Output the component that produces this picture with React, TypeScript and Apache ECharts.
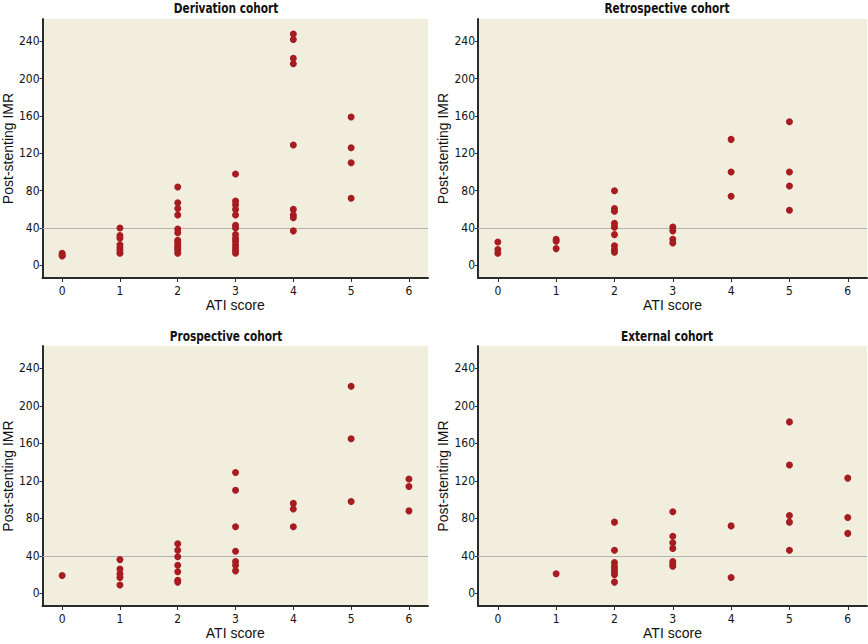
import React, { useEffect, useRef } from "react";
import * as echarts from "echarts";

const cohortTitles = ["Derivation cohort", "Retrospective cohort", "Prospective cohort", "External cohort"];
const atiScores = [0, 1, 2, 3, 4, 5, 6];
const imrTicks = [0, 40, 80, 120, 160, 200, 240];
const threshold = 40;

// IMR values per ATI score (index = score)
const derivationImr: number[][] = [
  [13, 11, 10],
  [40, 32, 29, 22, 19, 16, 13],
  [84, 67, 61, 54, 39, 35, 27, 25, 22, 20, 18, 16, 13],
  [98, 69, 65, 60, 54, 43, 40, 33, 29, 26, 22, 19, 16, 13],
  [248, 242, 222, 216, 129, 60, 54, 51, 37],
  [159, 126, 110, 72],
  [],
];
const retrospectiveImr: number[][] = [
  [25, 17, 13],
  [28, 26, 18],
  [80, 61, 58, 45, 41, 33, 21, 17, 14],
  [41, 37, 28, 24],
  [135, 100, 74],
  [154, 100, 85, 59],
  [],
];
const prospectiveImr: number[][] = [
  [19],
  [36, 26, 21, 17, 9],
  [53, 46, 39, 30, 23, 14, 12],
  [129, 110, 71, 45, 34, 30, 24],
  [96, 90, 71],
  [221, 165, 98],
  [122, 114, 88],
];
const externalImr: number[][] = [
  [],
  [21],
  [76, 46, 33, 29, 26, 23, 20, 12],
  [87, 61, 54, 48, 34, 31, 29],
  [72, 17],
  [183, 137, 83, 76, 46],
  [123, 81, 64],
];

const cohorts = [derivationImr, retrospectiveImr, prospectiveImr, externalImr];

const grids = [
  { left: 38, top: 19, width: 390, height: 259 },
  { left: 478, top: 19, width: 389, height: 259 },
  { left: 38, top: 346, width: 390, height: 260 },
  { left: 478, top: 346, width: 389, height: 260 },
];
const titlePos = [
  { x: 226, y: 8 },
  { x: 667, y: 8 },
  { x: 226, y: 336 },
  { x: 667, y: 336 },
];

const narrow = "'DejaVu Sans Condensed', 'Liberation Sans Narrow', sans-serif";
const regular = "'Liberation Sans', Arial, sans-serif";
const axisColor = "#2b2b2b";

export default function App() {
  const ref = useRef<HTMLDivElement>(null);
  useEffect(() => {
    if (!ref.current) return;
    const chart = echarts.init(ref.current, null, { renderer: "svg" });
    const option: any = {
      animation: false,
      backgroundColor: "#ffffff",
      grid: grids.map((g) => ({
        ...g,
        show: true,
        backgroundColor: "#f2eedd",
        borderWidth: 0,
        containLabel: false,
      })),
      xAxis: grids.map((_, i) => ({
        type: "value",
        gridIndex: i,
        min: -0.34,
        max: 6.33,
        name: "ATI score",
        nameLocation: "middle",
        nameGap: 19,
        nameTextStyle: { fontFamily: regular, fontSize: 14, color: "#111" },
        axisLine: { show: true, onZero: false, lineStyle: { color: axisColor, width: 2 } },
        axisTick: { show: true, length: 4, customValues: atiScores, lineStyle: { color: axisColor } },
        axisLabel: { customValues: atiScores, margin: 7, fontFamily: narrow, fontSize: 12, color: "#111" },
        splitLine: { show: false },
      })),
      yAxis: grids.map((_, i) => ({
        type: "value",
        gridIndex: i,
        min: -13.5,
        max: 264,
        name: "Post-stenting IMR",
        nameLocation: "middle",
        nameGap: 23,
        nameTextStyle: { fontFamily: regular, fontSize: 14, color: "#111" },
        axisLine: { show: true, onZero: false, lineStyle: { color: axisColor, width: 2 } },
        axisTick: { show: true, length: 3, customValues: imrTicks, lineStyle: { color: axisColor } },
        axisLabel: { customValues: imrTicks, margin: 3, fontFamily: narrow, fontSize: 12, color: "#111" },
        splitLine: { show: false },
      })),
      series: cohorts.map((c, i) => ({
        type: "scatter",
        xAxisIndex: i,
        yAxisIndex: i,
        symbol: "circle",
        symbolSize: 7,
        itemStyle: { color: "#a71c20", opacity: 1 },
        data: c.flatMap((vals, s) => vals.map((v) => [atiScores[s], v])),
        markLine: {
          silent: true,
          symbol: ["none", "none"],
          label: { show: false },
          lineStyle: { color: "#b3b3b3", width: 1, type: "solid" },
          data: [{ yAxis: threshold }],
          z: 1,
        },
      })),
      graphic: cohortTitles.map((t, i) => ({
        type: "text",
        x: titlePos[i].x,
        y: titlePos[i].y,
        scaleX: 0.84,
        style: {
          text: t,
          textAlign: "center",
          textVerticalAlign: "middle",
          fontFamily: narrow,
          fontWeight: "bold",
          fontSize: 14,
          fill: "#111",
        },
      })),
    };
    chart.setOption(option);
    return () => chart.dispose();
  }, []);
  return (
    <div
      ref={ref}
      style={{ position: "fixed", left: 0, top: 0, width: 868, height: 644 }}
    />
  );
}
